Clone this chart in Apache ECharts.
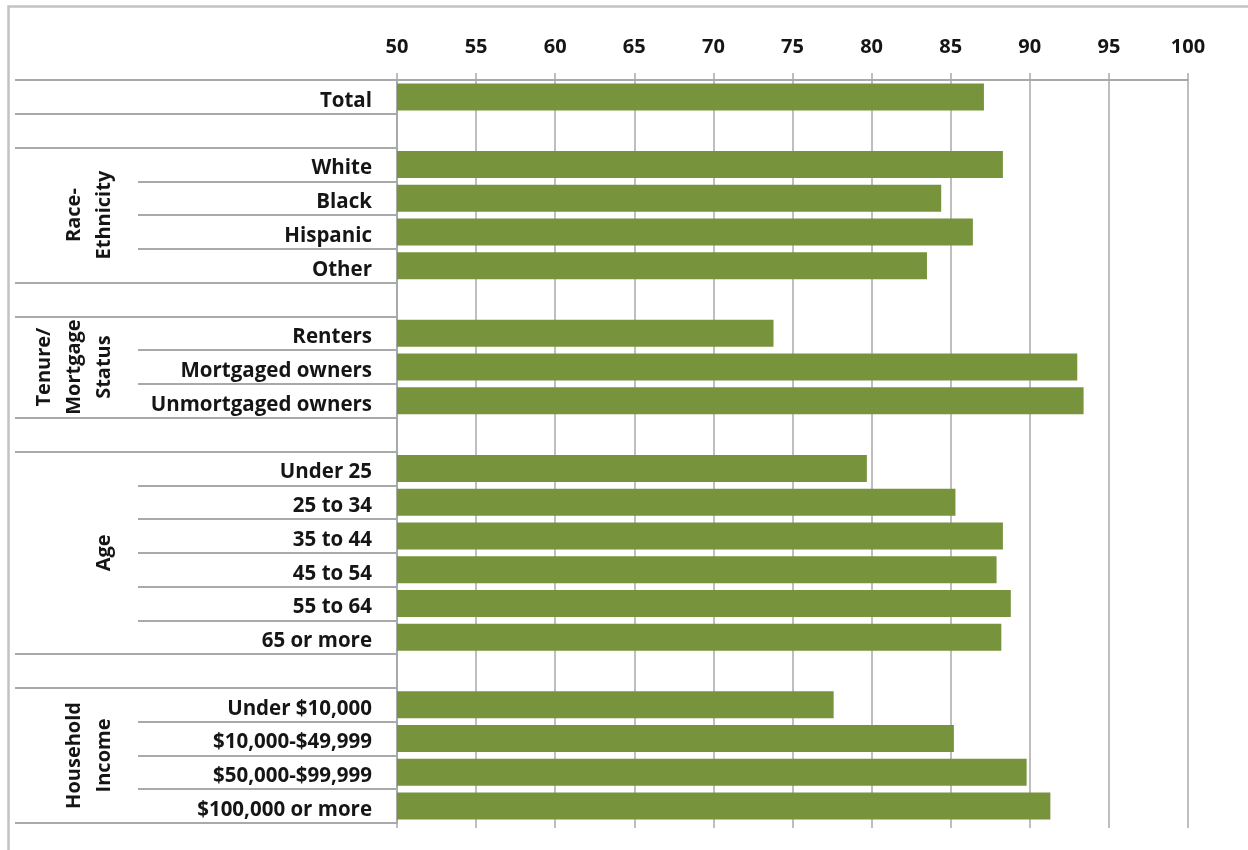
<!DOCTYPE html>
<html>
<head>
<meta charset="utf-8">
<title>Neighborhood rating by household characteristics</title>
<script src="https://cdn.jsdelivr.net/npm/echarts@6/dist/echarts.min.js"></script>
<style>
  html, body { margin: 0; padding: 0; background: #ffffff; }
  #chart { width: 1248px; height: 850px; }
</style>
</head>
<body>
<div id="chart"></div>
<script>
// Rows of the chart, top to bottom; '' marks a spacer row between sections.
const categories = [
  'Total', '',
  'White', 'Black', 'Hispanic', 'Other', '',
  'Renters', 'Mortgaged owners', 'Unmortgaged owners', '',
  'Under 25', '25 to 34', '35 to 44', '45 to 54', '55 to 64', '65 or more', '',
  'Under $10,000', '$10,000-$49,999', '$50,000-$99,999', '$100,000 or more'
];

// Percent values for each row (null on spacer rows).
const values = [
  87.1, null,
  88.3, 84.4, 86.4, 83.5, null,
  73.8, 93.0, 93.4, null,
  79.7, 85.3, 88.3, 87.9, 88.8, 88.2, null,
  77.6, 85.2, 89.8, 91.3
];

// Section headings and the rows they span.
const groupNames = ['Race-\nEthnicity', 'Tenure/\nMortgage\nStatus', 'Age', 'Household\nIncome'];
const groupFirst = ['White', 'Renters', 'Under 25', 'Under $10,000'];
const groupLast = ['Other', 'Unmortgaged owners', '65 or more', '$100,000 or more'];

// Value axis ticks.
const axisMin = 50;
const axisMax = 100;
const axisStep = 5;

const FONT = '"Open Sans", "Liberation Sans", sans-serif';
const TEXT = '#151515';
const LINE = '#a9a9a9';
const BAR = '#77933C';

const chart = echarts.init(document.getElementById('chart'), null, { renderer: 'canvas' });

// A separator spans the whole label column where a section starts or ends.
function isSectionEdge(i) {
  return i === 0 || categories[i] === '' || categories[i - 1] === '';
}

const option = {
  animation: false,
  backgroundColor: '#ffffff',
  grid: { left: 397, right: 60, top: 80, bottom: 27, containLabel: false },
  xAxis: [
    {
      type: 'value',
      position: 'top',
      min: axisMin,
      max: axisMax,
      interval: axisStep,
      axisLine: { show: true, lineStyle: { color: LINE, width: 2 } },
      axisTick: { show: true, inside: false, length: 7, lineStyle: { color: LINE, width: 1.5 } },
      axisLabel: { margin: 23, fontFamily: FONT, fontWeight: 'bold', fontSize: 20, color: TEXT },
      splitLine: { show: true, lineStyle: { color: LINE, width: 1.5 } }
    },
    {
      type: 'value',
      position: 'bottom',
      min: axisMin,
      max: axisMax,
      interval: axisStep,
      axisLine: { show: false },
      axisTick: { show: true, inside: false, length: 5, lineStyle: { color: LINE, width: 1.5 } },
      axisLabel: { show: false },
      splitLine: { show: false }
    }
  ],
  yAxis: [
    {
      type: 'category',
      position: 'left',
      inverse: true,
      data: categories,
      axisLine: { show: true, lineStyle: { color: LINE, width: 2 } },
      axisTick: { show: true, inside: false, length: 259, interval: 0, lineStyle: { color: LINE, width: 2 } },
      axisLabel: {
        margin: 25, fontFamily: FONT, fontWeight: 'bold', fontSize: 20.5, color: TEXT,
        interval: 0, verticalAlign: 'top', lineHeight: 8
      },
      splitLine: { show: false }
    },
    {
      type: 'category',
      position: 'left',
      inverse: true,
      data: categories,
      axisLine: { show: false },
      axisTick: {
        show: true, inside: false, length: 382,
        interval: function (i) { return isSectionEdge(i); },
        lineStyle: { color: LINE, width: 2 }
      },
      axisLabel: { show: false },
      splitLine: { show: false }
    }
  ],
  series: [
    {
      type: 'bar',
      xAxisIndex: 0,
      yAxisIndex: 0,
      data: values,
      barWidth: '80%',
      itemStyle: { color: BAR }
    }
  ]
};

chart.setOption(option);

// Rotated section headings, centred on the rows they cover, plus the outer frame.
function rowY(name) {
  return chart.convertToPixel({ yAxisIndex: 0 }, name);
}
const headings = groupNames.map(function (label, k) {
  const yc = (rowY(groupFirst[k]) + rowY(groupLast[k])) / 2;
  return {
    type: 'text',
    x: 119,
    y: yc,
    rotation: Math.PI / 2,
    style: {
      text: label,
      align: 'center',
      verticalAlign: 'bottom',
      lineHeight: 30,
      font: 'bold 20px ' + FONT,
      fill: TEXT
    },
    z: 10
  };
});

chart.setOption({
  graphic: [
    {
      type: 'polyline',
      shape: { points: [[8.5, 850], [8.5, 6.5], [1248, 6.5]] },
      style: { stroke: '#c2c2c2', lineWidth: 2.5, fill: null },
      silent: true
    }
  ].concat(headings)
});
</script>
</body>
</html>
